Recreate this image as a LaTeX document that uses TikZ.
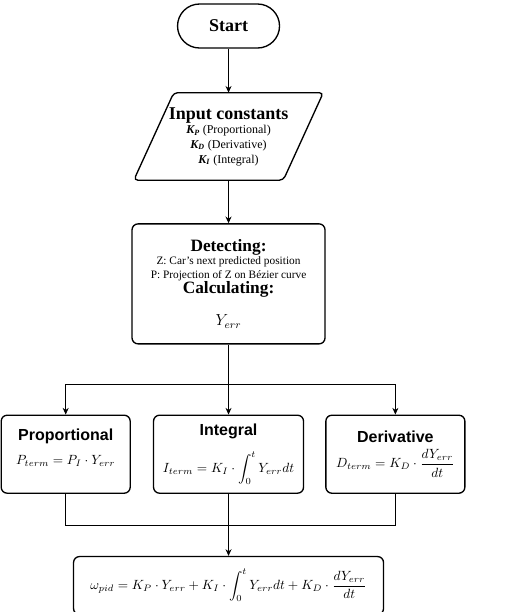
\documentclass[tikz,border=0pt]{standalone}
\usepackage{amsmath,amssymb}
\usepackage{fontspec}
\setmainfont{Liberation Serif}
\setsansfont{Liberation Sans}
\usepackage{tikz}
\usetikzlibrary{positioning,arrows.meta,shapes.geometric,calc}

\newcommand{\serifhead}[1]{{\fontsize{13}{15}\selectfont\bfseries #1}}
\newcommand{\sanshead}[1]{{\fontsize{12}{14}\selectfont\sffamily\bfseries #1}}

\begin{document}
\begin{tikzpicture}[
    every node/.style={font=\fontsize{8.5}{10}\selectfont},
    box/.style={draw, line width=1pt, rounded corners=4.5pt, align=center, inner sep=2pt},
    terminal/.style={draw, line width=1pt, rounded corners=16.5pt, minimum width=76.5pt, minimum height=33pt, font=\fontsize{13.5}{15}\selectfont\bfseries},
    iobox/.style={minimum width=141.75pt, minimum height=65.25pt, align=center, inner sep=1pt, font=\fontsize{9}{11}\selectfont},
    arrow/.style={-{Stealth[length=5pt,width=4.5pt]}, line width=0.6pt},
    line/.style={line width=0.6pt},
]
\useasboundingbox (0,0) rectangle (388.5pt,-459pt);

\node[terminal] (start) at (171.4pt,-19.5pt) {Start};
\node[iobox, below=33pt of start] (input) {{\fontsize{13.5}{16}\selectfont\bfseries Input constants}\\
    \textbf{\textit{K\textsubscript{P}}} (Proportional)\\
    \textbf{\textit{K\textsubscript{D}}} (Derivative)\\
    \textbf{\textit{K\textsubscript{I}}} (Integral)};
% slanted outline of the input block
\draw[line width=1pt, rounded corners=3pt] (input.south west) -- ([xshift=30pt]input.north west)
    -- (input.north east) -- ([xshift=-30pt]input.south east) -- cycle;
\node[box, minimum width=144.75pt, minimum height=90pt, below=32.25pt of input] (detect) {\serifhead{Detecting:}\\
    Z: Car's next predicted position\\
    P: Projection of Z on Bézier curve\\
    \serifhead{Calculating:}\\[12pt]
    {\fontsize{12}{14}\selectfont $Y_{err}$}};

% the three PID terms
\node[box, minimum width=112.5pt, minimum height=58.5pt, below=52.5pt of detect] (integ) {\sanshead{Integral}\\[9pt]
    {\fontsize{10}{12}\selectfont $\displaystyle I_{term} = K_I \cdot \int_0^t Y_{err}dt$}};
\node[box, minimum width=96.75pt, minimum height=58.5pt, left=16.5pt of integ] (prop) {\sanshead{Proportional}\\[8pt]
    {\fontsize{10}{12}\selectfont $P_{term} = P_I \cdot Y_{err}$}\\[2pt]};
\node[box, minimum width=104.25pt, minimum height=58.5pt, right=15.75pt of integ] (deriv) {\sanshead{Derivative}\\[4pt]
    {\fontsize{10}{12}\selectfont $\displaystyle D_{term} = K_D \cdot \frac{dY_{err}}{dt}$}};

\node[box, minimum width=232.5pt, minimum height=43.5pt, below=46.5pt of integ] (final) {{\fontsize{10}{12}\selectfont $\displaystyle \omega_{pid} = K_P \cdot Y_{err} + K_I \cdot \int_0^t Y_{err}dt + K_D \cdot \frac{dY_{err}}{dt}$}};

\coordinate[below=30pt of detect] (split);
\coordinate[below=24pt of integ] (join);

\draw[arrow] (start) -- (input);
\draw[arrow] (input) -- (detect);
\draw[line] (detect) -- (split);
\draw[arrow] (split) -| (prop);
\draw[arrow] (split) -- (integ);
\draw[arrow] (split) -| (deriv);
\draw[line] (prop) |- (join);
\draw[line] (deriv) |- (join);
\draw[arrow] (integ) -- (final);
\end{tikzpicture}
\end{document}
